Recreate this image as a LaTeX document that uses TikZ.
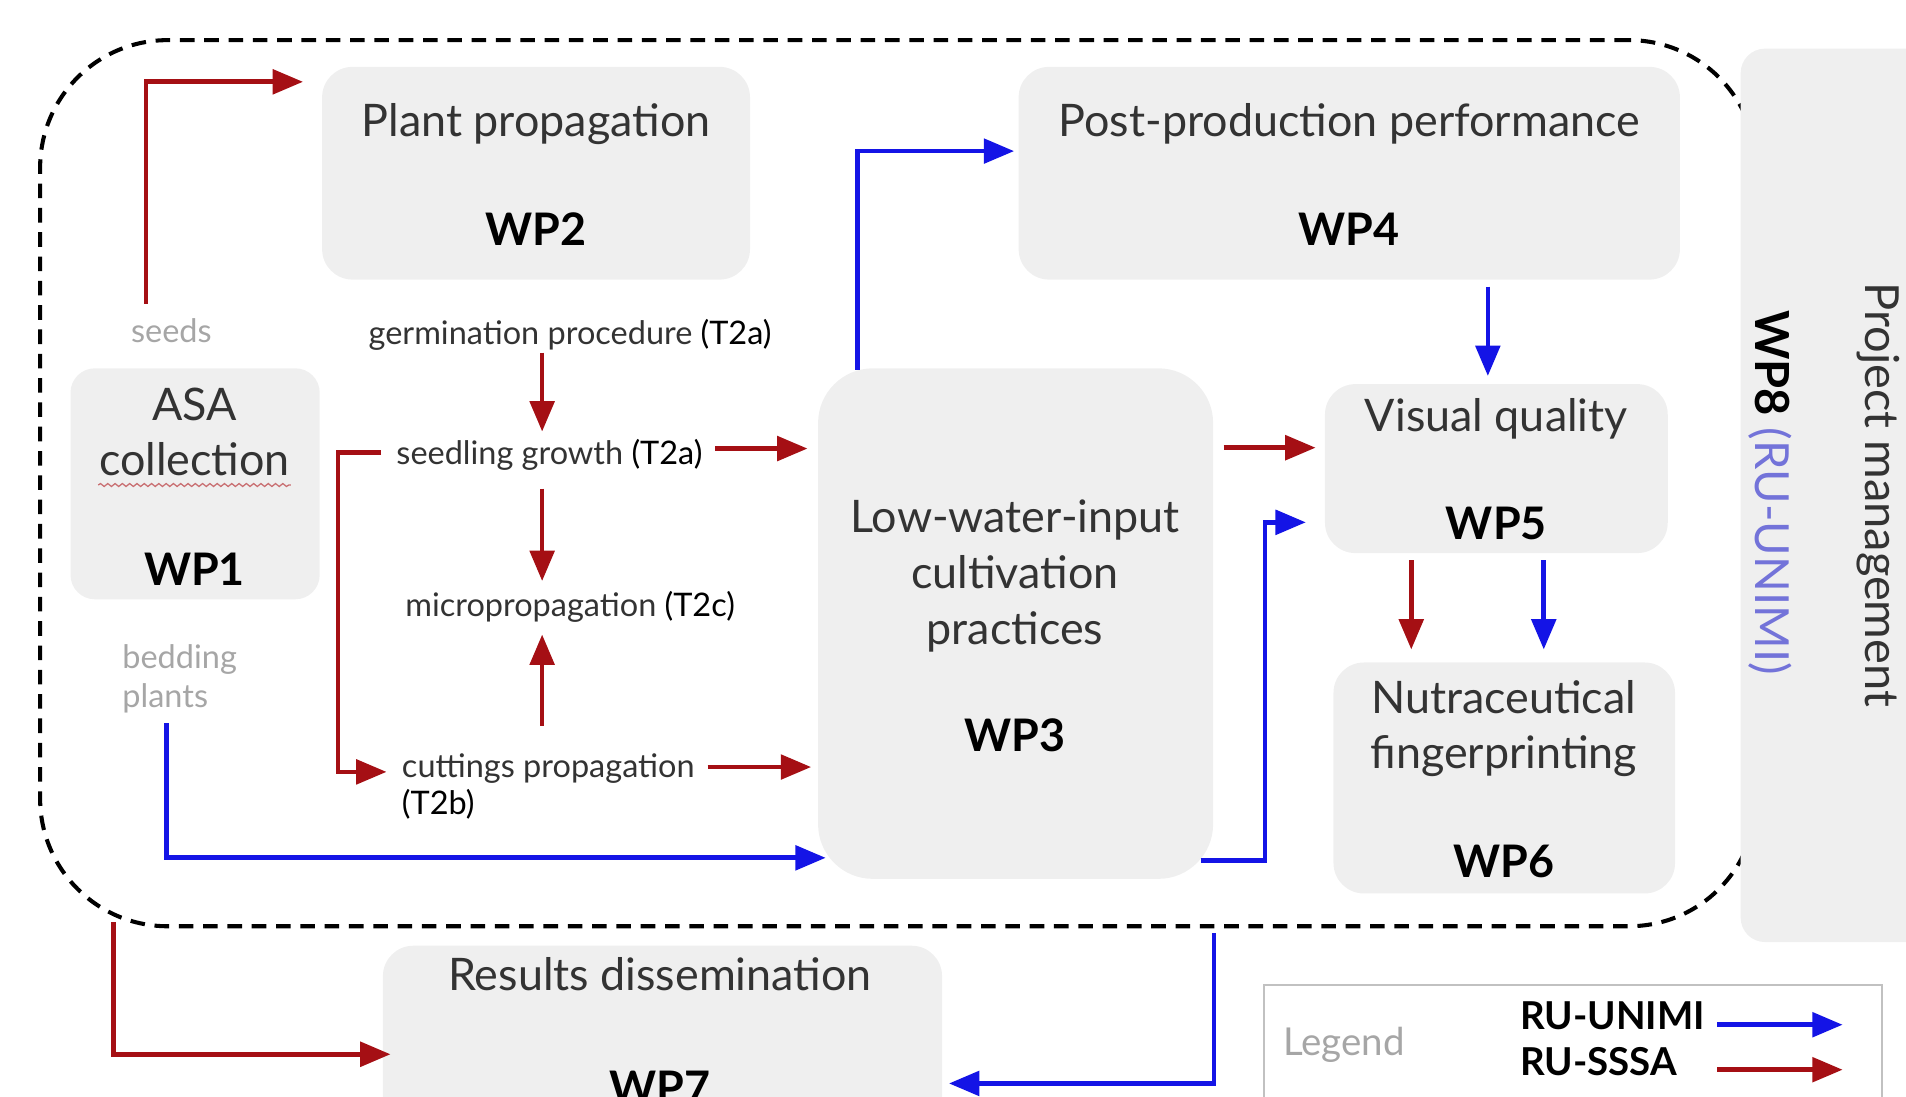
\documentclass[tikz,border=0pt]{standalone}
\usepackage{fontspec}
\setmainfont{Lato}
\usepackage{tikz}
\usetikzlibrary{arrows.meta,calc,decorations.pathmorphing}
\usepackage{xcolor}
\definecolor{ssa}{HTML}{A50F14}
\definecolor{unimi}{HTML}{1414E6}
\definecolor{unimitxt}{HTML}{7373D9}
\definecolor{boxgrey}{HTML}{EFEFEF}
\definecolor{txtgrey}{HTML}{333333}
\definecolor{lightgrey}{HTML}{A6A6A6}

\begin{document}
\begin{tikzpicture}[x=0.1mm,y=-0.1mm,
		wpbox/.style={fill=boxgrey,rounded corners=2.5mm,inner sep=0pt},
		wptitle/.style={inner sep=0pt,anchor=base,text=txtgrey,font=\fontsize{10.5}{12}\selectfont},
		wplabel/.style={inner sep=0pt,anchor=base,font=\fontsize{10.5}{12}\selectfont\bfseries},
		task/.style={inner sep=0pt,anchor=base,text=txtgrey,font=\fontsize{7.6}{9}\selectfont},
		flowlabel/.style={inner sep=0pt,anchor=base west,text=lightgrey,font=\fontsize{7.6}{9}\selectfont},
		ssaarrow/.style={draw=ssa,line width=1.1pt,-{Triangle[length=2.5mm,width=2mm]}},
		unimiarrow/.style={draw=unimi,line width=1.1pt,-{Triangle[length=2.5mm,width=2mm]}}]
		\useasboundingbox (0,0) rectangle (1568,902);
		\clip (0,0) rectangle (1568,902);
		\node[draw,dash pattern=on 1.2mm off 0.8mm,line width=0.95pt,rounded corners=10.5mm,
			minimum width=141.2mm,minimum height=72.9mm] (core) at (739,397.5) {};
		\node[wpbox,minimum width=35.2mm,minimum height=17.5mm] (wp2) at (441,142.5) {};
		\node[wpbox,minimum width=54.4mm,minimum height=17.5mm] (wp4) at (1110,142.5) {};
		\node[wpbox,minimum width=20.5mm,minimum height=19mm,rounded corners=2mm] (wp1) at (160.5,398) {};
		\node[wpbox,minimum width=32.5mm,minimum height=42mm,rounded corners=4.5mm] (wp3) at (835.5,513) {};
		\node[wpbox,minimum width=28.2mm,minimum height=13.9mm] (wp5) at (1231,385.5) {};
		\node[wpbox,minimum width=28.1mm,minimum height=19mm] (wp6) at (1237.5,640) {};
		\node[wpbox,minimum width=46mm,minimum height=16.4mm] (wp7) at (545,860) {};
		\node[wpbox,minimum width=16.8mm,minimum height=73.5mm,rounded corners=2mm] (wp8) at (1516,407.5) {};
		\node[draw=lightgrey!70,line width=0.5pt,minimum width=50.8mm,minimum height=13mm] (legend) at (1294,875) {};

		\node[wptitle] (t2) at (441,112) {Plant propagation};
		\node[wplabel] (l2) at (441,202) {WP2};
		\node[wptitle] (t4) at (1110,112) {Post-production performance};
		\node[wplabel] (l4) at (1110,202) {WP4};
		\node[wptitle] (t1a) at (160,346) {ASA};
		\node[wptitle] (t1b) at (160,391) {collection};
		\node[wplabel] (l1) at (160,482) {WP1};
		\node[wptitle] (t3a) at (835,438) {Low-water-input};
		\node[wptitle] (t3b) at (835,484) {cultivation};
		\node[wptitle] (t3c) at (835,530) {practices};
		\node[wplabel] (l3) at (835,618) {WP3};
		\node[wptitle] (t5) at (1231,355) {Visual quality};
		\node[wplabel] (l5) at (1231,444) {WP5};
		\node[wptitle] (t6a) at (1237,587) {Nutraceutical};
		\node[wptitle] (t6b) at (1237,632) {fingerprinting};
		\node[wplabel] (l6) at (1237,722) {WP6};
		\node[wptitle] (t7) at (543,815) {Results dissemination};
		\node[wplabel] (l7) at (543,908) {WP7};
		\node[rotate=-90,inner sep=0pt,font=\fontsize{11}{13}\selectfont] (l8) at (1456,405)
			{\textbf{WP8} \textcolor{unimitxt}{(RU-UNIMI)}};
		\node[rotate=-90,inner sep=0pt,text=txtgrey,font=\fontsize{11}{13}\selectfont] (t8) at (1545,407)
			{Project management};

		\node[task] (germ) at (469,283) {germination procedure \textcolor{black}{(T2a)}};
		\node[task] (seed) at (452,382) {seedling growth \textcolor{black}{(T2a)}};
		\node[task] (micro) at (469,507) {micropropagation \textcolor{black}{(T2c)}};
		\node[task,anchor=base west] (cut1) at (330,640) {cuttings propagation};
		\node[task,anchor=base west,text=black] (cut2) at (330,670) {(T2b)};
		\node[flowlabel,anchor=base] (seeds) at (141,282) {seeds};
		\node[flowlabel] (bed1) at (100,550) {bedding};
		\node[flowlabel] (bed2) at (100,582) {plants};

		\node[flowlabel,font=\fontsize{9}{11}\selectfont] (legtxt) at (1055,868) {Legend};
		\node[wplabel,anchor=base west,font=\fontsize{9}{11}\selectfont\bfseries] (leguni) at (1250,847) {RU-UNIMI};
		\node[wplabel,anchor=base west,font=\fontsize{9}{11}\selectfont\bfseries] (legssa) at (1250,885) {RU-SSSA};

		\draw[ssa!60,line width=0.3pt,decorate,decoration={snake,amplitude=0.12mm,segment length=0.6mm}]
			([shift={(0,8)}]t1b.base west) -- ([shift={(0,8)}]t1b.base east);

		\draw[ssaarrow] ([shift={(-21,-32)}]seeds.base) |- ([shift={(-15,13)}]wp2.north west);
		\draw[ssaarrow] ([shift={(-23,7)}]germ.base) -- ([shift={(-6,-27)}]seed.base);
		\draw[ssaarrow,shorten >=0.8mm] ([shift={(10,-13)}]seed.base east) coordinate (a3) -- (a3 -| wp3.west);
		\draw[ssaarrow] ([shift={(-6,20)}]seed.base) -- ([shift={(-23,-29)}]micro.base);
		\draw[ssaarrow] ([shift={(116,-43)}]cut1.base west) -- ([shift={(-23,15)}]micro.base);
		\draw[ssaarrow] ([shift={(-12,-10)}]seed.base west) -| ([shift={(-52,-5)}]cut1.base west)
			-- ([shift={(-12,-5)}]cut1.base west);
		\draw[ssaarrow,shorten >=0.5mm] ([shift={(10,-9)}]cut1.base east) coordinate (a7) -- (a7 -| wp3.west);
		\draw[unimiarrow] ([shift={(37,13)}]bed2.base west) |- ([shift={(7,-18)}]wp3.south west);
		\draw[unimiarrow] ([shift={(33,2)}]wp3.north west) |- ([shift={(-3,70)}]wp4.north west);
		\draw[ssaarrow,shorten >=0.7mm] ([shift={(8,66)}]wp3.north east) coordinate (a10) -- (a10 -| wp5.west);
		\draw[unimiarrow] ([shift={(-11,-16)}]wp3.south east) -- ++(53,0) |- ([shift={(-15,-26)}]wp5.south west);
		\draw[unimiarrow,shorten >=0.6mm] ([shift={(114,5)}]wp4.south) coordinate (a12) -- (a12 |- wp5.north);
		\draw[ssaarrow,shorten >=1mm] ([shift={(-70,5)}]wp5.south) coordinate (a13) -- (a13 |- wp6.north);
		\draw[unimiarrow,shorten >=1mm] ([shift={(39,5)}]wp5.south) coordinate (a14) -- (a14 |- wp6.north);
		\draw[ssaarrow] ([shift={(62,-5)}]core.south west) |- ([shift={(7,90)}]wp7.north west);
		\draw[unimiarrow] ($(core.south -| wp3.east)+(0,4)$) |- ([shift={(5,114)}]wp7.north east);

		\draw[unimiarrow] ([shift={(-136,-32)}]legend.east) -- ++(103,0);
		\draw[ssaarrow] ([shift={(-136,5)}]legend.east) -- ++(103,0);
	\end{tikzpicture}
\end{document}
